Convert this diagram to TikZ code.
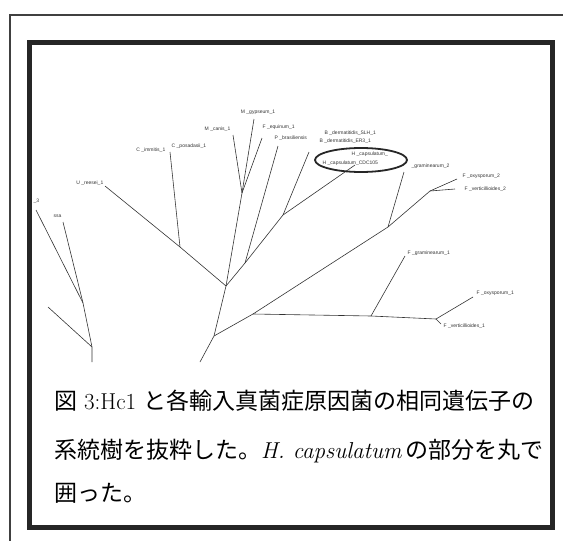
\documentclass[tikz,border=0pt]{standalone}
\usepackage{fontspec}
\newfontfamily\cjk{Noto Sans CJK JP}
\newfontfamily\labfont{Liberation Sans}
\begin{document}
\begin{tikzpicture}[x=1pt,y=-1pt,
  branch/.style={line width=0.6pt,draw=black!80},
  leaf/.style={font=\labfont\fontsize{5}{6}\selectfont,text=black!80,inner sep=0.5pt},
  caption/.style={font=\fontsize{23}{23}\selectfont,anchor=base west,inner sep=0pt}]
\useasboundingbox (0,0) rectangle (563,541);
% frames
\coordinate (ob) at (10,541); \coordinate (ot) at (10,15); \coordinate (or) at (563,15);
\draw[line width=1.3pt,black!75] (ob) -- (ot) -- (or);
\draw[line width=5pt,black!85] (29.5,42) rectangle (552,527);
% internal branch points
\coordinate (R) at (200,362);
\coordinate (A) at (214,336);
\coordinate (B) at (226,286);
\coordinate (C) at (253,314);
\coordinate (D) at (371,316);
\coordinate (E) at (436,319);
\coordinate (G) at (388,227);
\coordinate (H) at (430,191);
\coordinate (N) at (180,247);
\coordinate (I) at (242,193);
\coordinate (K) at (245,263);
\coordinate (L) at (283,215);
% tips
\coordinate (tFg1) at (405,256);
\coordinate (tFo1) at (473,297);
\coordinate (tFv1) at (441,324);
\coordinate (tFg2) at (404,172);
\coordinate (tFo2) at (457,179);
\coordinate (tFv2) at (455,189);
\coordinate (tUr) at (105,186);
\coordinate (tCp) at (170,152);
\coordinate (tMc) at (233,135);
\coordinate (tMg) at (254,119);
\coordinate (tFe) at (262,138);
\coordinate (tPb) at (278,146);
\coordinate (tBd) at (309,152);
\coordinate (tHc) at (355,165);
% left fragment
\coordinate (P1) at (83,303);
\coordinate (P2) at (92,347);
\coordinate (P3) at (92,362);
\coordinate (tL1) at (36,210);
\coordinate (tL2) at (63,222);
\coordinate (tL3) at (48,307);
% branches
\draw[branch] (R) -- (A) -- (B);
\draw[branch] (A) -- (C) -- (D) -- (E);
\draw[branch] (D) -- (tFg1);
\draw[branch] (E) -- (tFo1);
\draw[branch] (E) -- (tFv1);
\draw[branch] (C) -- (G) -- (tFg2);
\draw[branch] (G) -- (H) -- (tFo2);
\draw[branch] (H) -- (tFv2);
\draw[branch] (B) -- (N) -- (tUr);
\draw[branch] (N) -- (tCp);
\draw[branch] (B) -- (I) -- (tMc);
\draw[branch] (I) -- (tMg);
\draw[branch] (I) -- (tFe);
\draw[branch] (B) -- (K) -- (tPb);
\draw[branch] (K) -- (L) -- (tBd);
\draw[branch] (L) -- (tHc);
\draw[branch] (tL1) -- (P1);
\draw[branch] (tL2) -- (P1) -- (P2) -- (P3);
\draw[branch] (tL3) -- (P2);
% labels
\node[leaf,anchor=west] (lFg1) at (407,253) {F \_graminearum\_1};
\node[leaf,anchor=west] (lFo1) at (476,293) {F \_oxysporum\_1};
\node[leaf,anchor=west] (lFv1) at (443,326) {F \_verticillioides\_1};
\node[leaf,anchor=west] (lFg2) at (411,166) {\_graminearum\_2};
\node[leaf,anchor=west] (lFo2) at (462,176) {F \_oxysporum\_2};
\node[leaf,anchor=west] (lFv2) at (464,189) {F \_verticillioides\_2};
\node[leaf,anchor=east] (lUr) at (104,183) {U \_reesei\_1};
\node[leaf,anchor=east] (lCi) at (166,150) {C \_immitis\_1};
\node[leaf,anchor=west] (lCp) at (171,146) {C \_posadasii\_1};
\node[leaf,anchor=east] (lMc) at (231,129) {M \_canis\_1};
\node[leaf] (lMg) at (258,112) {M \_gypseum\_1};
\node[leaf,anchor=west] (lFe) at (262,127) {F \_equinum\_1};
\node[leaf,anchor=west] (lPb) at (274,138) {P \_brasiliensis};
\node[leaf,anchor=west] (lBd1) at (324,133) {B \_dermatitidis\_SLH\_1};
\node[leaf,anchor=west] (lBd2) at (319,141) {B \_dermatitidis\_ER3\_1};
\node[leaf,anchor=west] (lHc1) at (351,154) {H \_capsulatum\_};
\node[leaf,anchor=west] (lHc2) at (322,163) {H \_capsulatum\_CDC105};
\node[leaf,anchor=west] (lL1) at (33,201) {\_3};
\node[leaf,anchor=east] (lL2) at (62,216) {ssa};
% circle around H. capsulatum
\draw[line width=1.8pt,black!85] (361,160) ellipse [x radius=46, y radius=12];
% caption
\node[caption] (cap1) at (54,409) {{\cjk 図}\ 3:Hc1 {\cjk と各輸入真菌症原因菌の相同遺伝子の}};
\node[caption] (cap2) at (54,458) {{\cjk 系統樹を抜粋した。}\textit{H. capsulatum}\,{\cjk の部分を丸で}};
\node[caption] (cap3) at (54,501) {{\cjk 囲った。}};
\end{tikzpicture}
\end{document}
